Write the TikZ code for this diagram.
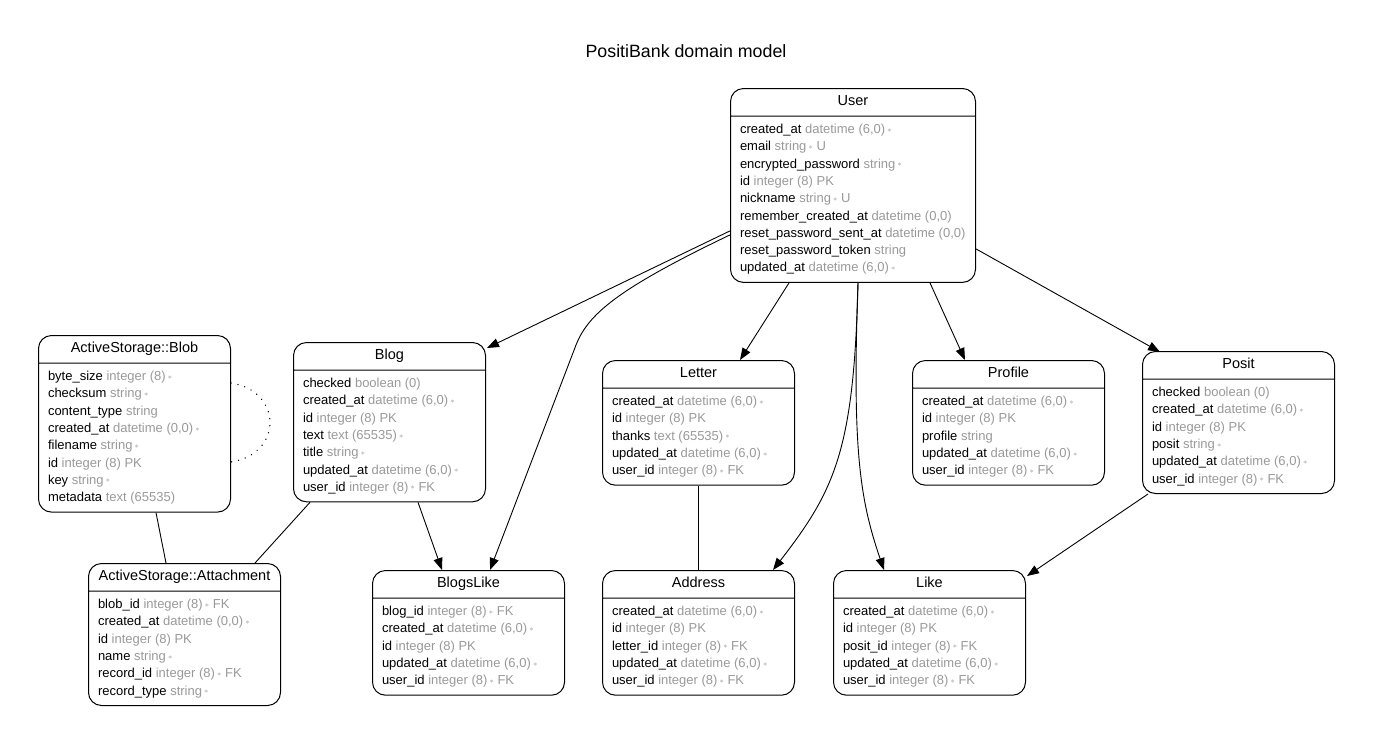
\documentclass[tikz,border=0pt]{standalone}
\usepackage{fontspec}
\setmainfont{Liberation Sans}
\usepackage{xcolor}
\usetikzlibrary{shapes.multipart,arrows.meta,calc}
\definecolor{typegray}{RGB}{153,153,153}
\newcommand{\ty}[1]{\textcolor{typegray}{#1}}
\newcommand{\nn}{\textcolor{typegray}{\,\raisebox{.2ex}{\fontsize{8}{8}\selectfont$\ast$}}}
\newcommand{\hd}[1]{\fontsize{14.5}{17}\selectfont\strut#1}
\begin{document}
\begin{tikzpicture}[x=1pt,y=-1pt]
\tikzstyle{every node}+=[font=\fontsize{13}{17.3}\selectfont]
\tikzstyle{entity}=[draw, rectangle split, rectangle split parts=2, rounded corners=13pt, minimum width=192pt, inner xsep=9.5pt, inner ysep=4.8pt, rectangle split part align={center,left}, anchor=north west, line width=1pt]
\tikzstyle{rel}=[-{Triangle[length=12pt,width=9pt]}, line width=0.9pt]
\tikzstyle{link}=[line width=0.9pt]
\useasboundingbox (0,0) rectangle (1373,745);
\node[font=\fontsize{17.8}{20}\selectfont] (title) at (686,51) {PositiBank domain model};
\node[entity, minimum width=245pt] (user) at (730,88) {\hd{User}\nodepart{two}\begin{tabular}{@{}l@{}}
created\_at \ty{datetime (6,0)}\nn\\
email \ty{string}\nn\ \ty{U}\\
encrypted\_password \ty{string}\nn\\
id \ty{integer (8) PK}\\
nickname \ty{string}\nn\ \ty{U}\\
remember\_created\_at \ty{datetime (0,0)}\\
reset\_password\_sent\_at \ty{datetime (0,0)}\\
reset\_password\_token \ty{string}\\
updated\_at \ty{datetime (6,0)}\nn
\end{tabular}};
\node[entity] (blob) at (38,335) {\hd{ActiveStorage::Blob}\nodepart{two}\begin{tabular}{@{}l@{}}
byte\_size \ty{integer (8)}\nn\\
checksum \ty{string}\nn\\
content\_type \ty{string}\\
created\_at \ty{datetime (0,0)}\nn\\
filename \ty{string}\nn\\
id \ty{integer (8) PK}\\
key \ty{string}\nn\\
metadata \ty{text (65535)}
\end{tabular}};
\node[entity] (blog) at (293,342) {\hd{Blog}\nodepart{two}\begin{tabular}{@{}l@{}}
checked \ty{boolean (0)}\\
created\_at \ty{datetime (6,0)}\nn\\
id \ty{integer (8) PK}\\
text \ty{text (65535)}\nn\\
title \ty{string}\nn\\
updated\_at \ty{datetime (6,0)}\nn\\
user\_id \ty{integer (8)}\nn\ \ty{FK}
\end{tabular}};
\node[entity] (letter) at (602,360) {\hd{Letter}\nodepart{two}\begin{tabular}{@{}l@{}}
created\_at \ty{datetime (6,0)}\nn\\
id \ty{integer (8) PK}\\
thanks \ty{text (65535)}\nn\\
updated\_at \ty{datetime (6,0)}\nn\\
user\_id \ty{integer (8)}\nn\ \ty{FK}
\end{tabular}};
\node[entity] (profile) at (912,360) {\hd{Profile}\nodepart{two}\begin{tabular}{@{}l@{}}
created\_at \ty{datetime (6,0)}\nn\\
id \ty{integer (8) PK}\\
profile \ty{string}\\
updated\_at \ty{datetime (6,0)}\nn\\
user\_id \ty{integer (8)}\nn\ \ty{FK}
\end{tabular}};
\node[entity] (posit) at (1142,351) {\hd{Posit}\nodepart{two}\begin{tabular}{@{}l@{}}
checked \ty{boolean (0)}\\
created\_at \ty{datetime (6,0)}\nn\\
id \ty{integer (8) PK}\\
posit \ty{string}\nn\\
updated\_at \ty{datetime (6,0)}\nn\\
user\_id \ty{integer (8)}\nn\ \ty{FK}
\end{tabular}};
\node[entity] (attach) at (88,563) {\hd{ActiveStorage::Attachment}\nodepart{two}\begin{tabular}{@{}l@{}}
blob\_id \ty{integer (8)}\nn\ \ty{FK}\\
created\_at \ty{datetime (0,0)}\nn\\
id \ty{integer (8) PK}\\
name \ty{string}\nn\\
record\_id \ty{integer (8)}\nn\ \ty{FK}\\
record\_type \ty{string}\nn
\end{tabular}};
\node[entity] (blogslike) at (372,570) {\hd{BlogsLike}\nodepart{two}\begin{tabular}{@{}l@{}}
blog\_id \ty{integer (8)}\nn\ \ty{FK}\\
created\_at \ty{datetime (6,0)}\nn\\
id \ty{integer (8) PK}\\
updated\_at \ty{datetime (6,0)}\nn\\
user\_id \ty{integer (8)}\nn\ \ty{FK}
\end{tabular}};
\node[entity] (address) at (602,570) {\hd{Address}\nodepart{two}\begin{tabular}{@{}l@{}}
created\_at \ty{datetime (6,0)}\nn\\
id \ty{integer (8) PK}\\
letter\_id \ty{integer (8)}\nn\ \ty{FK}\\
updated\_at \ty{datetime (6,0)}\nn\\
user\_id \ty{integer (8)}\nn\ \ty{FK}
\end{tabular}};
\node[entity] (like) at (833,570) {\hd{Like}\nodepart{two}\begin{tabular}{@{}l@{}}
created\_at \ty{datetime (6,0)}\nn\\
id \ty{integer (8) PK}\\
posit\_id \ty{integer (8)}\nn\ \ty{FK}\\
updated\_at \ty{datetime (6,0)}\nn\\
user\_id \ty{integer (8)}\nn\ \ty{FK}
\end{tabular}};
\draw[rel] ($(user.south west)+(0,-52)$) -- ($(blog.north east)+(1,6)$);
\draw[rel] ($(user.south west)+(0,-48)$) .. controls (615,290) and (588,315) .. (576,345) -- ($(blogslike.north west)+(118,0)$);
\draw[rel] ($(blog.south west)+(125,0)$) -- ($(blogslike.north west)+(70,0)$);
\draw[rel] ($(user.south west)+(59,0)$) -- ($(letter.north west)+(138,0)$);
\draw[rel] ($(user.south west)+(128,0)$) .. controls (854,450) and (835,490) .. ($(address.north west)+(171,0)$);
\draw[rel] ($(user.south west)+(128,0)$) .. controls (852,450) and (860,500) .. ($(like.north west)+(51,0)$);
\draw[rel] ($(user.south west)+(200,0)$) -- ($(profile.north west)+(53,0)$);
\draw[rel] ($(user.south east)+(0,-34)$) -- ($(posit.north west)+(18,1)$);
\draw[rel] ($(posit.south west)+(6,0)$) -- ($(like.north east)+(1,6)$);
\draw[link] (letter.south) -- (address.north);
\draw[link] ($(blob.south west)+(118,0)$) -- ($(attach.north west)+(78,0)$);
\draw[link] ($(blog.south west)+(17,0)$) -- ($(attach.north west)+(167,0)$);
\draw[link, dash pattern=on 0.1pt off 7pt, line cap=round, line width=1.4pt] ($(blob.north east)+(0,48)$) .. controls +(52,8) and +(52,-8) .. ($(blob.north east)+(0,127)$);
\end{tikzpicture}
\end{document}
